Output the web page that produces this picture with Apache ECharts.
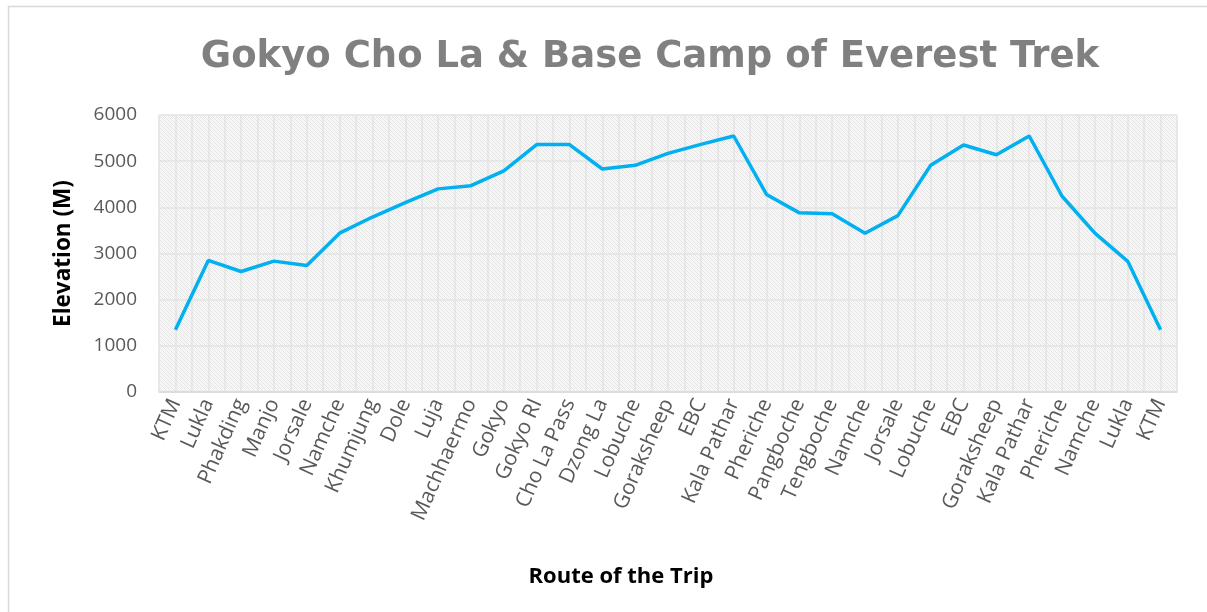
<!DOCTYPE html>
<html>
<head>
<meta charset="utf-8">
<script src="https://cdn.jsdelivr.net/npm/echarts@6/dist/echarts.min.js"></script>
<style>html,body{margin:0;padding:0;background:#fff;}#c{width:1207px;height:612px;}</style>
</head>
<body>
<div id="c"></div>
<script>
var categories = ['KTM','Lukla','Phakding','Manjo','Jorsale','Namche','Khumjung','Dole','Luja','Machhaermo','Gokyo','Gokyo RI','Cho La Pass','Dzong La','Lobuche','Goraksheep','EBC','Kala Pathar','Pheriche','Pangboche','Tengboche','Namche','Jorsale','Lobuche','EBC','Goraksheep','Kala Pathar','Pheriche','Namche','Lukla','KTM'];
var elevation = [1350,2850,2610,2835,2740,3440,3790,4100,4400,4470,4790,5360,5360,4830,4910,5170,5364,5545,4280,3880,3860,3440,3820,4910,5350,5140,5545,4240,3440,2830,1350];
var yTicks = {min: 0, max: 6000, interval: 1000};

var pc = document.createElement('canvas');
pc.width = 4; pc.height = 4;
var g = pc.getContext('2d');
g.fillStyle = '#fbfbfb'; g.fillRect(0,0,4,4);
g.fillStyle = '#e2e2e2';
for (var i = 0; i < 4; i++) { g.fillRect(i, i % 4, 1, 1); }
g.fillStyle = '#eeeeee';
for (var j = 0; j < 4; j++) { g.fillRect(j, (j + 2) % 4, 1, 1); }

var chart = echarts.init(document.getElementById('c'), null, {renderer: 'canvas'});
var halfBands = [];
for (var k = 0; k < categories.length * 2; k++) halfBands.push('');
chart.setOption({
  animation: false,
  graphic: [{type: 'rect', shape: {x: 8.5, y: 6.5, width: 1300, height: 700}, style: {fill: 'none', stroke: '#d9d9d9', lineWidth: 1.5}, z: -10}],
  title: [{
    text: 'Gokyo Cho La & Base Camp of Everest Trek',
    left: 645, top: 34, textAlign: 'center',
    textStyle: {fontFamily: 'DejaVu Sans', fontWeight: 'bold', fontSize: 37, color: '#808080'}
  }, {
    text: 'Route of the Trip',
    left: 616, top: 561, textAlign: 'center',
    textStyle: {fontFamily: 'Open Sans', fontWeight: 'bold', fontSize: 22, color: '#000'}
  }],
  grid: {left: 159, right: 30, top: 115, bottom: 220, show: true, backgroundColor: {image: pc, repeat: 'repeat'}, borderWidth: 0},
  xAxis: [{
    type: 'category', data: categories, boundaryGap: true,
    axisLine: {show: true, lineStyle: {color: '#d9d9d9', width: 1.5}},
    axisTick: {show: false},
    splitLine: {show: false},
    axisLabel: {rotate: 66, interval: 0, fontFamily: 'Open Sans', fontSize: 21, color: '#595959', margin: 8}
  }, {
    type: 'category', data: halfBands, boundaryGap: true, position: 'bottom',
    axisLine: {show: false}, axisTick: {show: false}, axisLabel: {show: false},
    splitLine: {show: true, interval: 0, lineStyle: {color: '#e3e3e3', width: 1.5}}
  }],
  yAxis: {
    type: 'value', min: yTicks.min, max: yTicks.max, interval: yTicks.interval,
    name: 'Elevation (M)', nameLocation: 'middle', nameGap: 84, nameRotate: 90,
    nameTextStyle: {fontFamily: 'Open Sans', fontWeight: 'bold', fontSize: 22.5, color: '#000'},
    axisLine: {show: false}, axisTick: {show: false},
    axisLabel: {fontFamily: 'Open Sans', fontSize: 19, color: '#595959', margin: 22, formatter: function (v) { return String(v); }},
    splitLine: {show: true, lineStyle: {color: '#e3e3e3', width: 1.5}}
  },
  series: [{
    type: 'line', data: elevation, xAxisIndex: 0,
    symbol: 'none', lineStyle: {color: '#00b0f0', width: 3.5}, z: 5
  }]
});
</script>
</body>
</html>
